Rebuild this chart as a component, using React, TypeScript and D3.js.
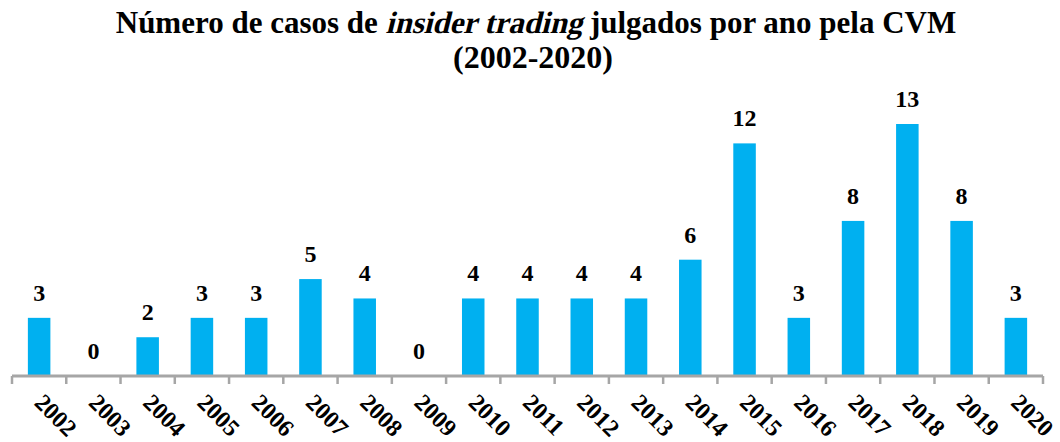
import React, { useEffect, useRef } from 'react'
import * as d3 from 'd3'

const WIDTH = 1060
const HEIGHT = 442

const years = ['2002', '2003', '2004', '2005', '2006', '2007', '2008', '2009', '2010', '2011',
  '2012', '2013', '2014', '2015', '2016', '2017', '2018', '2019', '2020']
const casos = [3, 0, 2, 3, 3, 5, 4, 0, 4, 4, 4, 4, 6, 12, 3, 8, 13, 8, 3]

const titleParts = ['Número de casos de ', 'insider trading', ' julgados por ano pela CVM']
const subtitle = '(2002-2020)'

const FONT = '"Liberation Serif", "Times New Roman", serif'
const BAR_COLOR = '#00B0F0'
const AXIS_COLOR = '#A6A6A6'

const App = () => {
  const ref = useRef<SVGSVGElement>(null)

  const drawChart = () => {
    const svg = d3.select(ref.current)
    svg.selectAll('*').remove()

    const xScale = d3.scaleBand()
      .domain(years)
      .range([12, 1043])
      .paddingInner(0.585)
      .paddingOuter(0.2925)

    const yScale = d3.scaleLinear()
      .domain([0, 13])
      .range([376, 124])

    // title: the italic part is drawn skewed (no serif italic face installed)
    const titleCenter = 536
    const titleG = svg.append('g').attr('class', 'title')
    const parts = titleParts.map((t) =>
      titleG.append('text')
        .attr('font-family', FONT)
        .attr('font-weight', 'bold')
        .attr('font-size', 31)
        .style('white-space', 'pre')
        .text(t)
    )
    const widths = parts.map((p) => (p.node() as SVGTextElement).getComputedTextLength())
    let cursor = titleCenter - d3.sum(widths) / 2
    parts.forEach((p, i) => {
      const skew = i === 1 ? ' skewX(-14)' : ''
      p.attr('transform', `translate(${cursor}, 33)${skew}`)
      cursor += widths[i]
    })

    svg.append('text')
      .attr('x', titleCenter - 3)
      .attr('y', 68)
      .attr('text-anchor', 'middle')
      .attr('font-family', FONT)
      .attr('font-weight', 'bold')
      .attr('font-size', 32)
      .text(subtitle)

    const bars = svg.append('g').attr('class', 'bars')
      .selectAll('g')
      .data(years)
      .enter()
      .append('g')

    bars.append('rect')
      .attr('x', (d) => xScale(d)!)
      .attr('y', (d, i) => yScale(casos[i]))
      .attr('width', xScale.bandwidth())
      .attr('height', (d, i) => yScale(0) - yScale(casos[i]))
      .attr('fill', BAR_COLOR)

    bars.append('text')
      .attr('x', (d) => xScale(d)! + xScale.bandwidth() / 2)
      .attr('y', (d, i) => yScale(casos[i]) - 17)
      .attr('text-anchor', 'middle')
      .attr('font-family', FONT)
      .attr('font-weight', 'bold')
      .attr('font-size', 24)
      .text((d, i) => casos[i])

    // axis
    const step = xScale.step()
    const x0 = xScale.range()[0]
    const axis = svg.append('g').attr('class', 'xaxis')
    axis.append('line')
      .attr('x1', x0)
      .attr('x2', xScale.range()[1])
      .attr('y1', yScale(0))
      .attr('y2', yScale(0))
      .attr('stroke', AXIS_COLOR)
      .attr('stroke-width', 3)

    axis.selectAll('line.tick')
      .data(d3.range(years.length + 1))
      .enter()
      .append('line')
      .attr('class', 'tick')
      .attr('x1', (i) => x0 + i * step)
      .attr('x2', (i) => x0 + i * step)
      .attr('y1', yScale(0))
      .attr('y2', yScale(0) + 8)
      .attr('stroke', AXIS_COLOR)
      .attr('stroke-width', 2.5)

    axis.selectAll('text')
      .data(years)
      .enter()
      .append('text')
      .attr('transform', (d) => {
        const cx = xScale(d)! + xScale.bandwidth() / 2 - 6
        return `translate(${cx}, ${yScale(0) + 28}) rotate(45)`
      })
      .attr('font-family', FONT)
      .attr('font-weight', 'bold')
      .attr('font-size', 24)
      .text((d) => d)
  }

  useEffect(() => {
    drawChart()
  }, [])

  return (
    <svg ref={ref} width={WIDTH} height={HEIGHT}
      style={{ position: 'absolute', left: 0, top: 0, background: 'white' }}></svg>
  )
}

export default App
